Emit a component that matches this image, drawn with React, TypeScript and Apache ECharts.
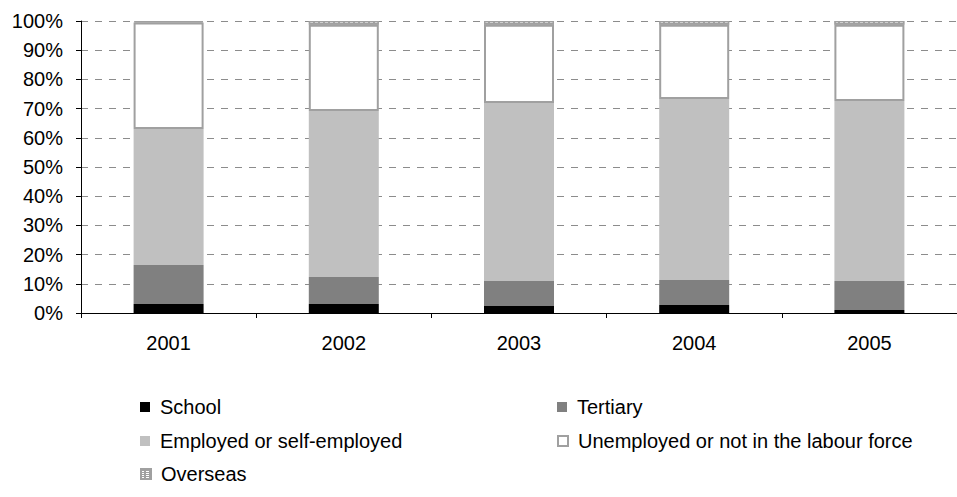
import React, { useEffect, useRef } from "react";
import * as echarts from "echarts";

const years = ["2001", "2002", "2003", "2004", "2005"];
const school = [3.1, 3.1, 2.4, 2.7, 1.0];
const tertiary = [13.3, 9.2, 8.6, 8.6, 10.0];
const employed = [46.6, 56.9, 60.9, 62.0, 61.6];
const unemployed = [36.5, 29.5, 26.8, 25.4, 26.1];
const overseas = [0.5, 1.3, 1.3, 1.3, 1.3];

const FONT = "'Liberation Sans', Arial, sans-serif";
const FS = 20;

const legendSlots: { name: string; left: number; top: number }[] = [
  { name: "School", left: 135, top: 392 },
  { name: "Tertiary", left: 552, top: 392 },
  { name: "Employed or self-employed", left: 135, top: 426 },
  { name: "Unemployed or not in the labour force", left: 552, top: 426 },
  { name: "Overseas", left: 135, top: 459 },
];

export default function App() {
  const ref = useRef<HTMLDivElement>(null);

  useEffect(() => {
    if (!ref.current) return;
    const chart = echarts.init(ref.current, undefined, { renderer: "svg" });

    const overseasDecal = {
      symbol: "rect",
      symbolSize: 1,
      color: "#ffffff",
      dashArrayX: [3, 2],
      dashArrayY: [1, 1],
      rotation: 0,
    };

    const bar = (name: string, data: number[], itemStyle: any) => ({
      name,
      type: "bar",
      stack: "total",
      barWidth: 70,
      data,
      itemStyle,
      emphasis: { disabled: true },
    });

    chart.setOption({
      animation: false,
      backgroundColor: "#ffffff",
      textStyle: { fontFamily: FONT },
      grid: { left: 81, top: 21, width: 880, height: 292, containLabel: false },
      xAxis: {
        type: "category",
        data: years,
        boundaryGap: true,
        axisLine: { lineStyle: { color: "#000", width: 1 } },
        axisTick: { show: true, length: 5, lineStyle: { color: "#000" } },
        axisLabel: { color: "#000", fontSize: FS, fontFamily: FONT, margin: 20 },
        splitLine: { show: false },
      },
      yAxis: {
        type: "value",
        min: 0,
        max: 100,
        interval: 10,
        axisLine: { show: true, lineStyle: { color: "#000", width: 1 } },
        axisTick: { show: true, length: 5, lineStyle: { color: "#000" } },
        axisLabel: {
          color: "#000",
          fontSize: FS,
          fontFamily: FONT,
          margin: 18,
          formatter: "{value}%",
        },
        splitLine: {
          show: true,
          lineStyle: { color: "#8c8c8c", type: [7, 7], width: 1 },
        },
      },
      legend: legendSlots.map((s) => ({
        data: [s.name],
        left: s.left,
        top: s.top,
        orient: "horizontal",
        itemWidth: 10,
        itemHeight: 10,
        icon: "rect",
        selectedMode: false,
        textStyle: {
          color: "#000",
          fontSize: FS,
          fontFamily: FONT,
          padding: [0, 0, 0, 5],
        },
      })),
      series: [
        bar("School", school, { color: "#000000" }),
        bar("Tertiary", tertiary, { color: "#808080" }),
        bar("Employed or self-employed", employed, { color: "#c0c0c0" }),
        bar("Unemployed or not in the labour force", unemployed, {
          color: "#ffffff",
          borderColor: "#a0a0a0",
          borderWidth: 2,
        }),
        bar("Overseas", overseas, {
          color: "#a0a0a0",
          borderColor: "#a0a0a0",
          borderWidth: 1.5,
          decal: overseasDecal,
        }),
      ],
    });

    return () => chart.dispose();
  }, []);

  return (
    <div
      ref={ref}
      style={{ position: "absolute", left: 0, top: 0, width: 957, height: 497 }}
    />
  );
}
